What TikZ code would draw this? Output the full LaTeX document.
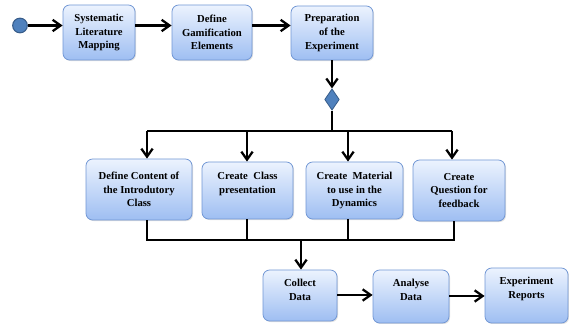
\documentclass[tikz,border=0pt]{standalone}
\usepackage{fontspec}
\setmainfont{Liberation Serif}
\usetikzlibrary{arrows.meta,shapes.geometric,shadows}
\definecolor{boxtop}{RGB}{236,243,254}
\definecolor{boxbot}{RGB}{158,190,242}
\definecolor{boxline}{RGB}{112,150,212}
\definecolor{dmdfill}{RGB}{79,129,189}
\definecolor{dmdline}{RGB}{56,93,138}
\begin{document}
\begin{tikzpicture}[x=0.75pt,y=-0.75pt,font={\fontsize{8}{10.3}\selectfont\bfseries},>={Straight Barb[length=6pt,width=8.5pt]},
	box/.style={rectangle,rounded corners=5pt,draw=boxline,line width=0.6pt,top color=boxtop,bottom color=boxbot,
		align=center,inner sep=2pt,drop shadow={shadow xshift=0.8pt,shadow yshift=-0.8pt,opacity=0.25}},
	flow/.style={line width=1.7pt}]
	\useasboundingbox (0,0) rectangle (569,324);
	%%Dòng trên
	\node[circle,fill=dmdfill,draw=dmdline,line width=0.8pt,minimum size=11pt,inner sep=0pt] (start) at (20,25.5) {};
	\node[box,minimum width=54pt,minimum height=41.25pt] (slm) at (99,32.5) {Systematic\\Literature\\Mapping};
	\node[box,minimum width=60pt,minimum height=41.25pt] (gam) at (212,32.5) {Define\\Gamification\\Elements};
	\node[box,minimum width=61.5pt,minimum height=40.5pt] (prep) at (332,33) {Preparation\\of the\\Experiment};
	\node[diamond,fill=dmdfill,draw=dmdline,line width=0.6pt,minimum width=11pt,minimum height=16pt,inner sep=0pt] (fork) at (332,99.5) {};
	\draw[flow,->] (start) -- (slm.west |- start);
	\draw[flow,->] (slm.east |- start) -- (gam.west |- start);
	\draw[flow,->] (gam.east |- start) -- (prep.west |- start);
	\draw[flow,->] (prep) -- (fork);
	%%Dòng giữa
	\node[box,minimum width=79.5pt,minimum height=45.75pt] (cont) at (139,189.5) {Define Content of\\the Introdutory\\Class};
	\node[box,minimum width=68.25pt,minimum height=42.75pt,text depth=12pt] (pres) at (247.5,190.5) {Create~ Class\\presentation};
	\node[box,minimum width=72.75pt,minimum height=42.75pt] (mat) at (354.5,190.5) {Create~ Material\\to use in the\\Dynamics};
	\node[box,minimum width=69pt,minimum height=45.75pt] (quest) at (459,190.5) {Create\\Question for\\feedback};
	\coordinate (a1) at (147,131);
	\coordinate (a2) at (247,131);
	\coordinate (a3) at (348,131);
	\coordinate (a4) at (452,131);
	\coordinate (b1) at (147,240);
	\coordinate (b2) at (247,240);
	\coordinate (b3) at (348,240);
	\coordinate (b4) at (454,240);
	\coordinate (bm) at (301,240);
	\draw[flow] (fork) -- (fork |- a1);
	\draw[flow] (a1) -- (a4);
	\draw[flow,->] (a1) -- (a1 |- cont.north);
	\draw[flow,->] (a2) -- (a2 |- pres.north);
	\draw[flow,->] (a3) -- (a3 |- mat.north);
	\draw[flow,->] (a4) -- (a4 |- quest.north);
	\draw[flow] (b1 |- cont.south) -- (b1) -- (b4) -- (b4 |- quest.south);
	\draw[flow] (b2 |- pres.south) -- (b2);
	\draw[flow] (b3 |- mat.south) -- (b3);
	%%Dòng dưới
	\node[box,minimum width=55.5pt,minimum height=38.25pt,text depth=9pt] (coll) at (300,295.5) {Collect\\Data};
	\node[box,minimum width=57pt,minimum height=39.75pt,text depth=10pt] (anal) at (411,296.5) {Analyse\\Data};
	\node[box,minimum width=62.25pt,minimum height=41.25pt,text depth=11pt] (rep) at (526.5,295.5) {Experiment\\Reports};
	\draw[flow,->] (bm) -- (bm |- coll.north);
	\draw[flow,->] (coll.east |- 0,295) -- (anal.west |- 0,295);
	\draw[flow,->] (anal.east |- 0,296) -- (rep.west |- 0,296);
\end{tikzpicture}
\end{document}
